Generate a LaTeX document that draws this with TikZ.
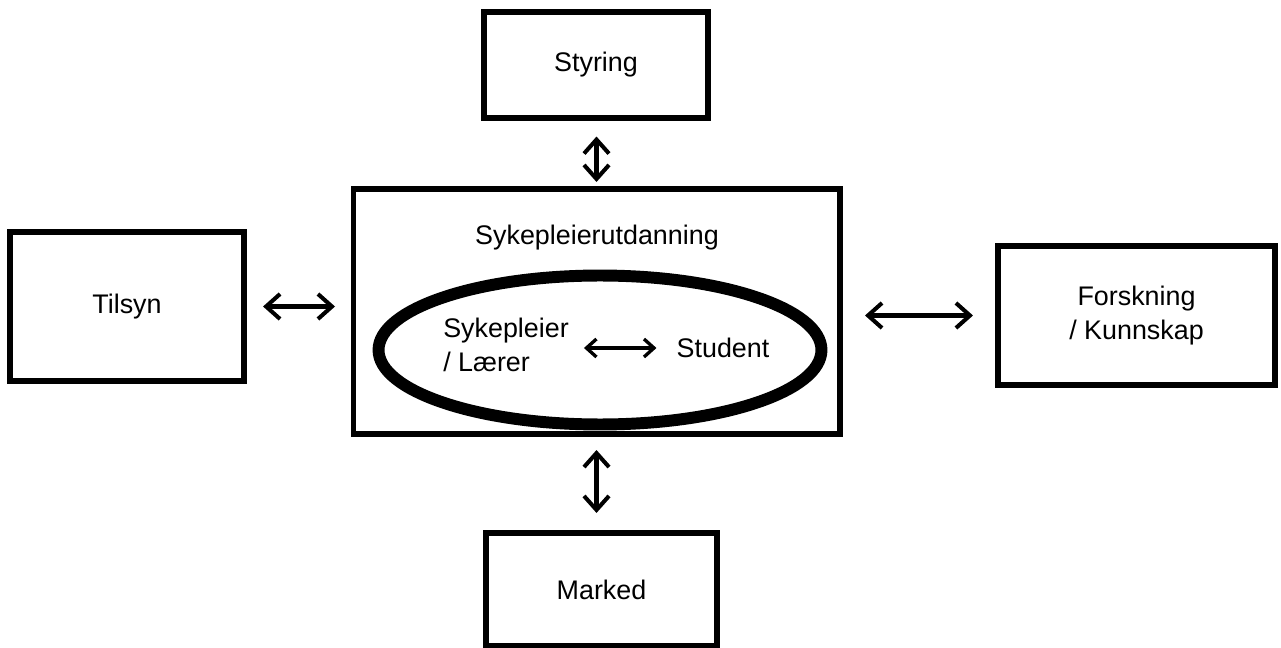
\documentclass[tikz,border=0pt]{standalone}
\usepackage{fontspec}
\setmainfont{Liberation Sans}
\usetikzlibrary{arrows.meta,calc,shapes.geometric}

\begin{document}
\begin{tikzpicture}[x=0.02cm,y=-0.02cm,font=\fontsize{15.3}{19}\selectfont,every node/.style={align=center},
    box/.style={draw,line width=2.9pt},
    link/.style={{Straight Barb[length=2.8mm,width=5mm]}-{Straight Barb[length=2.8mm,width=5mm]},line width=2.3pt}]
    \useasboundingbox (0,0) rectangle (1281,648);
    \node[box,minimum width=9.74cm,minimum height=4.9cm] (edu) at (596.5,311.5) {};
    \node (edutitle) at (597,238) {Sykepleierutdanning};
    \node[draw,ellipse,line width=6.8pt,minimum width=8.86cm,minimum height=2.98cm] (prax) at (600,350) {};
    \node[align=left] (ler) at (506,345) {Sykepleier\\/ Lærer};
    \node (stu) at (723,348) {Student};
    \node[box,minimum width=4.48cm,minimum height=2.12cm] (sty) at (596,65) {Styring};
    \node[box,minimum width=4.68cm,minimum height=2.98cm] (tils) at (127,306.5) {Tilsyn};
    \node[box,minimum width=5.54cm,minimum height=2.78cm] (fors) at (1136.5,315.5) {Forskning\\ / Kunnskap};
    \node[box,minimum width=4.62cm,minimum height=2.26cm] (mkt) at (601.5,589.5) {Marked};
    % links between the school and its surroundings
    \draw[link,shorten <=0.32cm,shorten >=0.09cm] (edu.north |- sty.south) -- (edu.north);
    \draw[link,shorten <=0.27cm,shorten >=0.35cm] (edu.south) -- (mkt.north -| edu.south);
    \draw[link,shorten <=0.33cm,shorten >=0.31cm] (tils.east) -- (tils.east -| edu.west);
    \draw[link,shorten <=0.45cm,shorten >=0.45cm] (fors.west -| edu.east) -- (fors.west);
    \draw[{Straight Barb[length=2mm,width=3.6mm]}-{Straight Barb[length=2mm,width=3.6mm]},line width=1.9pt,shorten <=0.18cm,shorten >=0.28cm] (ler.east |- stu.west) -- (stu.west);
\end{tikzpicture}
\end{document}
